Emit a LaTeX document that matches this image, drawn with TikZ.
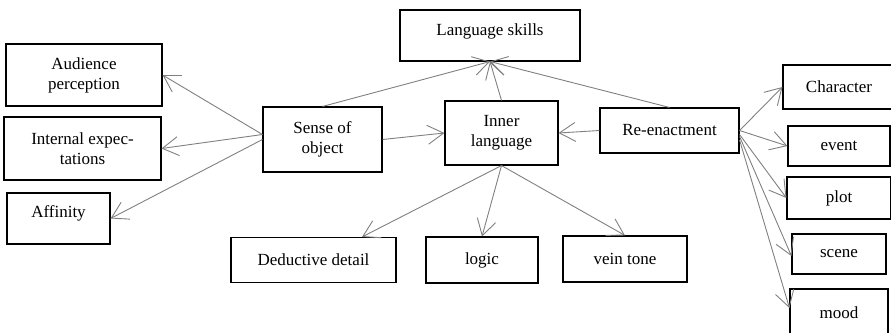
\documentclass[tikz,border=0pt]{standalone}
\usepackage{fontspec}
\setmainfont{Liberation Serif}
\usepackage{xcolor}
\usetikzlibrary{arrows.meta}
\definecolor{linkgray}{RGB}{128,128,128}
\tikzstyle{block} = [rectangle, black, line width=1.1pt, draw=black,
                     inner sep=0pt, align=center,
                     font=\fontsize{17}{20}\selectfont]
\tikzstyle{link} = [->, line width=0.9pt, draw=linkgray]

\begin{document}
\begin{tikzpicture}[x=1pt, y=-1pt, >={Straight Barb[length=16pt, width=19pt]}]
    \useasboundingbox (0,0) rectangle (891,332);
    % middle row
    \node[block, minimum width=180pt, minimum height=51pt, text depth=12pt] (skills) at (490,35.5) {Language skills};
    \node[block, minimum width=113pt, minimum height=64pt] (inner) [below of=skills, node distance=97.5pt, xshift=11.5pt] {Inner\\language};
    \node[block, minimum width=119pt, minimum height=65pt] (sense) [left of=inner, node distance=179pt, yshift=-6.5pt] {Sense of\\object};
    \node[block, minimum width=139pt, minimum height=45pt] (reenact) [right of=inner, node distance=168pt, yshift=2.5pt] {Re-enactment};
    \node[block, minimum width=112pt, minimum height=46pt] (logic) [below of=inner, node distance=127pt, xshift=-19.5pt] {logic};
    \node[block, minimum width=165pt, minimum height=45pt] (deduct) [left of=logic, node distance=168.5pt] {Deductive detail};
    \node[block, minimum width=124pt, minimum height=46pt] (vein) [right of=logic, node distance=143pt, yshift=1pt] {vein tone};
    % left column
    \node[block, minimum width=156pt, minimum height=62pt] (aud) at (84,75) {Audience\\perception};
    \node[block, minimum width=157pt, minimum height=63pt] (intexp) [below of=aud, node distance=73.5pt, xshift=-1.5pt] {Internal expec-\\tations};
    \node[block, minimum width=103pt, minimum height=51pt, text depth=13pt] (aff) [below of=intexp, node distance=70pt, xshift=-24pt] {Affinity};
    % right column
    \node[block, minimum width=112pt, minimum height=44pt] (char) at (839,87) {Character};
    \node[block, minimum width=102pt, minimum height=40pt] (event) [below of=char, node distance=59pt] {event};
    \node[block, minimum width=104pt, minimum height=42pt] (plot) [below of=event, node distance=52pt] {plot};
    \node[block, minimum width=94pt, minimum height=40pt] (scene) [below of=plot, node distance=56pt] {scene};
    \node[block, minimum width=98pt, minimum height=48pt] (mood) [below of=scene, node distance=59pt] {mood};
    % sense of object
    \draw[link] ([yshift=5pt]sense.west) -- (aud.east);
    \draw[link] ([yshift=5pt]sense.west) -- (intexp.east);
    \draw[link] (sense.west) -- (aff.east);
    \draw[link] (sense.east) -- (inner.west);
    \draw[link] (sense.north) -- (skills.south);
    % inner language
    \draw[link] (inner.north) -- (skills.south);
    \draw[link] (inner.south) -- ([xshift=48.5pt]deduct.north);
    \draw[link] (inner.south) -- (logic.north);
    \draw[link] (inner.south) -- (vein.north);
    % re-enactment
    \draw[link] (reenact.north) -- (skills.south);
    \draw[link] (reenact.west) -- (inner.east);
    \draw[link] (reenact.east) -- (char.west);
    \draw[link] (reenact.east) -- (event.west);
    \draw[link] ([yshift=-4pt]reenact.east) -- (plot.west);
    \draw[link] ([yshift=-6pt]reenact.east) -- ([yshift=-2pt]scene.west);
    \draw[link] ([yshift=-9.5pt]reenact.east) -- ([yshift=5pt]mood.west);
\end{tikzpicture}
\end{document}
